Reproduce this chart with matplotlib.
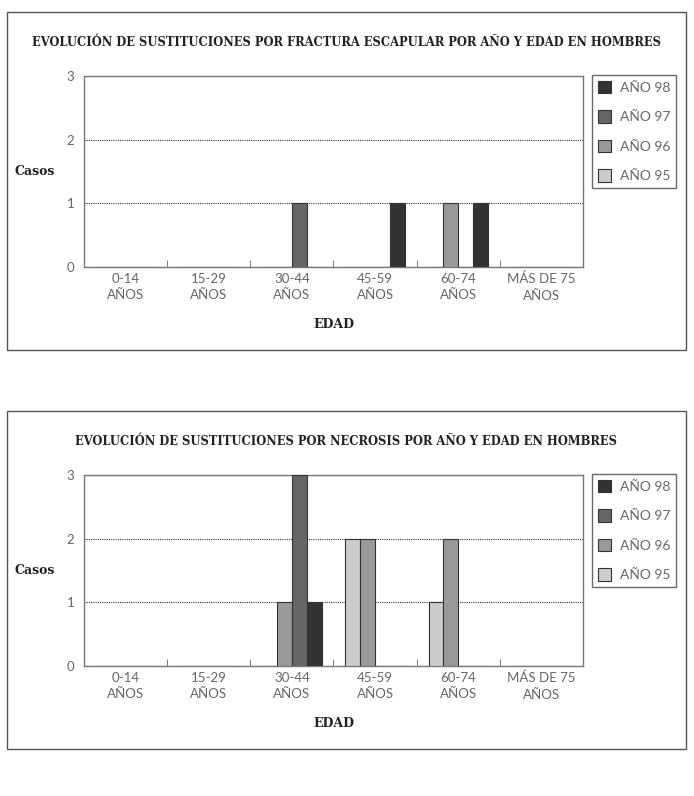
import numpy as np
import matplotlib
matplotlib.use("Agg")
import matplotlib.pyplot as plt
from matplotlib.patches import Rectangle, Patch

# datos
edades = ["0-14\nAÑOS", "15-29\nAÑOS", "30-44\nAÑOS", "45-59\nAÑOS", "60-74\nAÑOS", "MÁS DE 75\nAÑOS"]
anios = ["AÑO 95", "AÑO 96", "AÑO 97", "AÑO 98"]
colores = ["#cccccc", "#999999", "#666666", "#333333"]

fractura_95 = [0, 0, 0, 0, 0, 0]
fractura_96 = [0, 0, 0, 0, 1, 0]
fractura_97 = [0, 0, 1, 0, 0, 0]
fractura_98 = [0, 0, 0, 1, 1, 0]

necrosis_95 = [0, 0, 0, 2, 1, 0]
necrosis_96 = [0, 0, 1, 2, 2, 0]
necrosis_97 = [0, 0, 3, 0, 0, 0]
necrosis_98 = [0, 0, 1, 0, 0, 0]

titulos = ["EVOLUCIÓN DE SUSTITUCIONES POR FRACTURA ESCAPULAR POR AÑO Y EDAD EN HOMBRES",
           "EVOLUCIÓN DE SUSTITUCIONES POR NECROSIS POR AÑO Y EDAD EN HOMBRES"]

W, H = 694, 796
fig = plt.figure(figsize=(W / 100, H / 100), dpi=100)

serif = "DejaVu Serif"
sans = "Lato"


def px(x0, y0, x1, y1):
    # caja en pixeles -> coordenadas de figura
    return [x0 / W, 1 - y1 / H, (x1 - x0) / W, (y1 - y0) / H]


def panel(y_off, series, titulo, title_y):
    fig.patches.append(Rectangle((7 / W, 1 - (y_off + 338) / H), 679 / W, 338 / H,
                                 transform=fig.transFigure, fill=False,
                                 edgecolor="#555555", lw=1))
    fig.text(346 / W, 1 - title_y / H, titulo, ha="center", va="center",
             family=serif, weight="bold", fontsize=8.3, color="#222222")

    ax = fig.add_axes(px(84, y_off + 64, 583, y_off + 255))
    x = np.arange(len(edades))
    w = 0.178
    for i, (vals, c, lab) in enumerate(zip(series, colores, anios)):
        ax.bar(x + (i - 1.5) * w, vals, w, color=c, edgecolor="#333333",
               lw=0.8, label=lab, zorder=3)
    ax.set_xlim(-0.5, len(edades) - 0.5)
    ax.set_ylim(0, 3)
    ax.set_yticks([0, 1, 2, 3])
    ax.set_xticks(x)
    ax.set_xticklabels(edades, family=sans, fontsize=9.5, color="#666666",
                       linespacing=1.45)
    ax.set_xticks(np.arange(len(edades) + 1) - 0.5, minor=True)
    ax.tick_params(axis="x", which="major", length=0, pad=4)
    ax.tick_params(axis="x", which="minor", length=5, direction="in", color="#666666")
    ax.tick_params(axis="y", length=0, pad=7, labelsize=9.5, labelcolor="#666666")
    for t in ax.get_yticklabels():
        t.set_family(sans)
    ax.grid(axis="y", linestyle=(0, (1, 1)), color="#333333", lw=0.8, zorder=1)
    for s in ax.spines.values():
        s.set_color("#777777")
        s.set_linewidth(1)
    ax.text(-0.098, 0.5, "Casos", transform=ax.transAxes, ha="center", va="center",
            family=serif, weight="bold", fontsize=9, color="#222222")
    ax.set_xlabel("EDAD", family=serif, weight="bold", fontsize=9,
                  color="#222222", labelpad=12)

    handles = [Patch(facecolor=c, edgecolor="#333333", lw=0.8, label=l)
               for c, l in zip(colores[::-1], anios[::-1])]
    leg = ax.legend(handles=handles, loc="upper left",
                    bbox_to_anchor=(592 / W, 1 - (y_off + 63) / H),
                    bbox_transform=fig.transFigure, borderaxespad=0,
                    frameon=True, fancybox=False, handlelength=1.0, handleheight=1.0,
                    handletextpad=0.6, labelspacing=1.2, borderpad=0.4,
                    prop={"family": sans, "size": 10})
    leg.get_frame().set_edgecolor("#444444")
    leg.get_frame().set_linewidth(1)
    for t in leg.get_texts():
        t.set_color("#666666")
    return ax


panel(12, [fractura_95, fractura_96, fractura_97, fractura_98], titulos[0], 43)
panel(411, [necrosis_95, necrosis_96, necrosis_97, necrosis_98], titulos[1], 441)

fig.savefig("out.png", dpi=100)
